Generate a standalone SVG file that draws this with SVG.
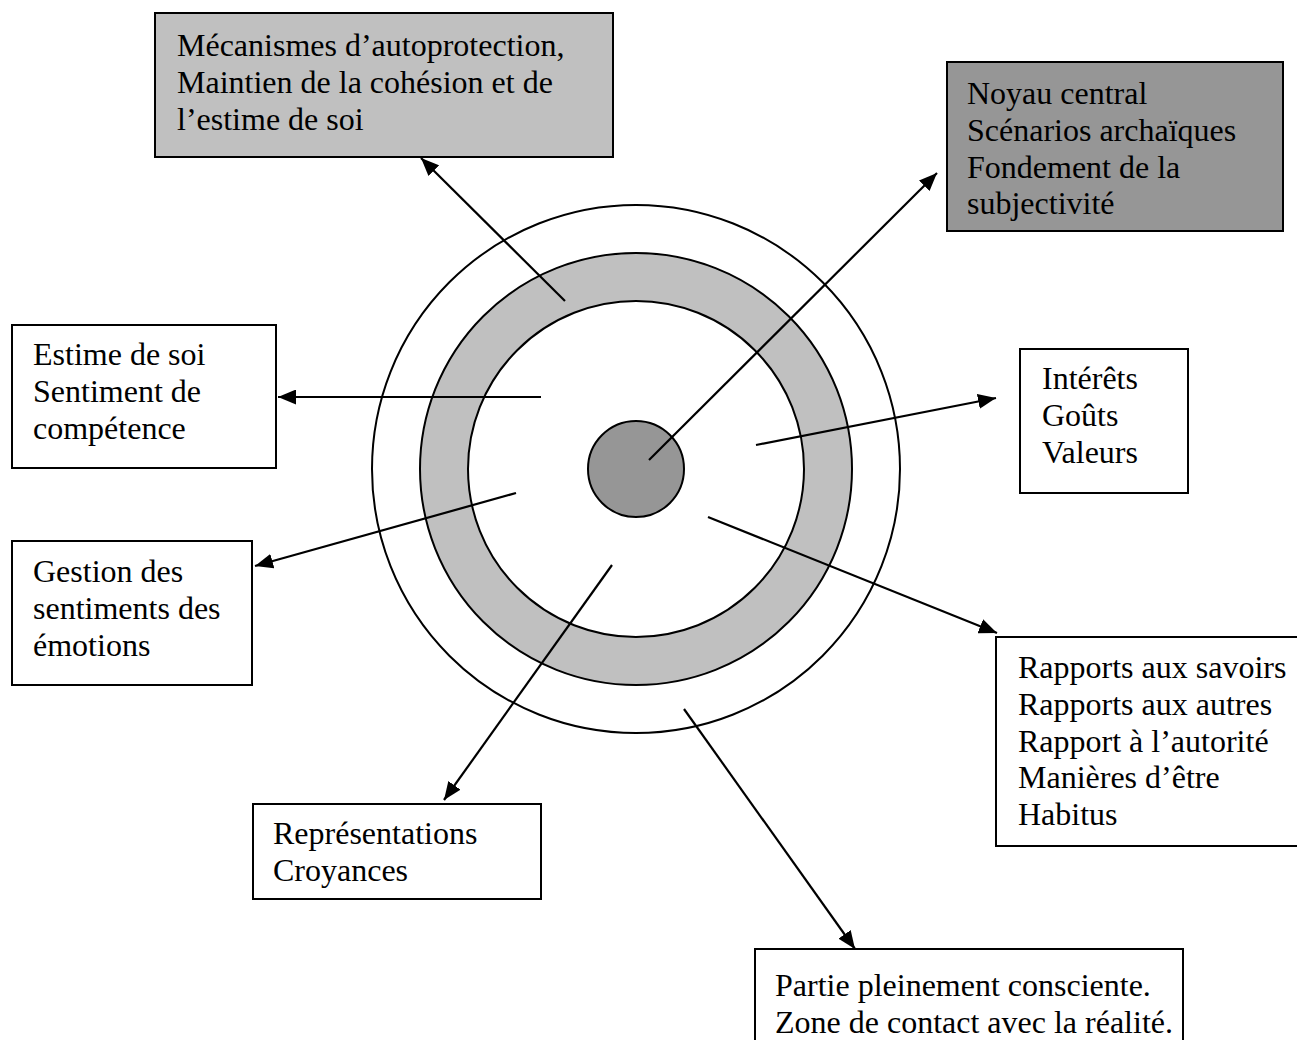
<svg xmlns="http://www.w3.org/2000/svg" width="1297" height="1040" viewBox="0 0 1297 1040">
<defs>
<style>
.box{stroke:#000;stroke-width:2;}
.t{font-family:"Liberation Serif","Times New Roman",serif;font-size:32px;fill:#000;}
.c{stroke:#000;stroke-width:2;}
.ln{stroke:#000;stroke-width:2.2;fill:none;marker-end:url(#ah);}
</style>
<marker id="ah" markerUnits="userSpaceOnUse" markerWidth="19" markerHeight="15" refX="18" refY="7.5" orient="auto">
<path d="M0,0 L18,7.5 L0,15 z" fill="#000"/>
</marker>
</defs>
<rect width="1297" height="1040" fill="#fff"/>
<g id="rings">
<circle class="c" cx="636" cy="469" r="264" fill="#fff"/>
<circle class="c" cx="636" cy="469" r="216" fill="#c0c0c0"/>
<circle class="c" cx="636" cy="469" r="168" fill="#fff"/>
<circle class="c" cx="636" cy="469" r="48" fill="#969696"/>
</g>
<g id="connectors">
<line class="ln" x1="565" y1="301" x2="421" y2="158"/>
<line class="ln" x1="649" y1="460" x2="937" y2="173"/>
<line class="ln" x1="541" y1="397" x2="278" y2="397"/>
<line class="ln" x1="516" y1="493" x2="255" y2="566"/>
<line class="ln" x1="756" y1="445" x2="996" y2="398"/>
<line class="ln" x1="708" y1="517" x2="997" y2="633"/>
<line class="ln" x1="612" y1="565" x2="444" y2="800"/>
<line class="ln" x1="684" y1="709" x2="855" y2="949"/>
</g>
<g id="n-meca">
<rect class="box" x="155" y="13" width="458" height="144" fill="#c0c0c0"/>
<text class="t" x="177" y="56">Mécanismes d’autoprotection,</text>
<text class="t" x="177" y="92.8">Maintien de la cohésion et de</text>
<text class="t" x="177" y="129.6">l’estime de soi</text>
</g>
<g id="n-noyau">
<rect class="box" x="947" y="62" width="336" height="169" fill="#969696"/>
<text class="t" x="967" y="104">Noyau central</text>
<text class="t" x="967" y="140.8">Scénarios archaïques</text>
<text class="t" x="967" y="177.6">Fondement de la</text>
<text class="t" x="967" y="214.4">subjectivité</text>
</g>
<g id="n-estime">
<rect class="box" x="12" y="325" width="264" height="143" fill="#fff"/>
<text class="t" x="33" y="365">Estime de soi</text>
<text class="t" x="33" y="401.8">Sentiment de</text>
<text class="t" x="33" y="438.6">compétence</text>
</g>
<g id="n-gestion">
<rect class="box" x="12" y="541" width="240" height="144" fill="#fff"/>
<text class="t" x="33" y="582">Gestion des</text>
<text class="t" x="33" y="618.8">sentiments des</text>
<text class="t" x="33" y="655.6">émotions</text>
</g>
<g id="n-interets">
<rect class="box" x="1020" y="349" width="168" height="144" fill="#fff"/>
<text class="t" x="1042" y="389">Intérêts</text>
<text class="t" x="1042" y="425.8">Goûts</text>
<text class="t" x="1042" y="462.6">Valeurs</text>
</g>
<g id="n-rapports">
<rect class="box" x="996" y="637" width="310" height="209" fill="#fff"/>
<text class="t" x="1018" y="678">Rapports aux savoirs</text>
<text class="t" x="1018" y="714.8">Rapports aux autres</text>
<text class="t" x="1018" y="751.6">Rapport à l’autorité</text>
<text class="t" x="1018" y="788.4">Manières d’être</text>
<text class="t" x="1018" y="825.2">Habitus</text>
</g>
<g id="n-repr">
<rect class="box" x="253" y="804" width="288" height="95" fill="#fff"/>
<text class="t" x="273" y="844">Représentations</text>
<text class="t" x="273" y="880.8">Croyances</text>
</g>
<g id="n-partie">
<rect class="box" x="755" y="949" width="428" height="110" fill="#fff"/>
<text class="t" x="775" y="996">Partie pleinement consciente.</text>
<text class="t" x="775" y="1033">Zone de contact avec la réalité.</text>
</g>
</svg>
